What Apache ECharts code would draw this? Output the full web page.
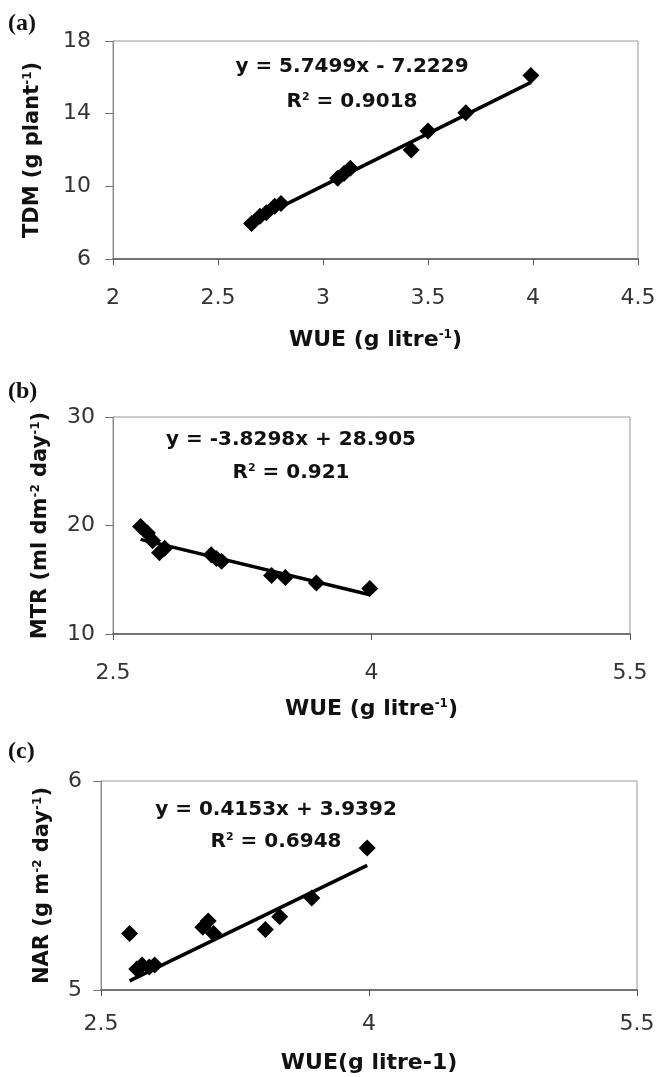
<!DOCTYPE html>
<html>
<head>
<meta charset="utf-8">
<script src="https://cdn.jsdelivr.net/npm/echarts@6/dist/echarts.min.js"></script>
<style>
html,body{margin:0;padding:0;background:#fff;}
#chart{width:659px;height:1077px;}
</style>
</head>
<body>
<div id="chart"></div>
<script>
// ---- data ----
var wue = [2.66, 2.70, 2.73, 2.77, 2.80, 3.07, 3.10, 3.13, 3.42, 3.50, 3.68, 3.99];
var tdm = [7.95, 8.35, 8.55, 8.90, 9.05, 10.45, 10.70, 11.00, 12.00, 13.05, 14.05, 16.10];
var mtr = [19.9, 19.3, 18.6, 17.5, 17.9, 17.3, 16.95, 16.7, 15.4, 15.2, 14.7, 14.2];
var nar = [5.27, 5.10, 5.12, 5.11, 5.12, 5.30, 5.33, 5.27, 5.29, 5.35, 5.44, 5.68];

var trendA = [[2.66, 8.07], [3.99, 15.72]];
var trendB = [[2.66, 18.72], [3.99, 13.62]];
var trendC = [[2.66, 5.044], [3.99, 5.596]];

var xTicksA = [2, 2.5, 3, 3.5, 4, 4.5];
var yTicksA = [6, 10, 14, 18];
var xTicksB = [2.5, 4, 5.5];
var yTicksB = [10, 20, 30];
var xTicksC = [2.5, 4, 5.5];
var yTicksC = [5, 6];

var eqA = ['y = 5.7499x - 7.2229', 'R{sup|2} = 0.9018'];
var eqB = ['y = -3.8298x + 28.905', 'R{sup|2} = 0.921'];
var eqC = ['y = 0.4153x + 3.9392', 'R{sup|2} = 0.6948'];

var titlesA = ['WUE (g litre{sup|-1})', 'TDM (g plant{sup|-1})'];
var titlesB = ['WUE (g litre{sup|-1})', 'MTR (ml dm{sup|-2} day{sup|-1})'];
var titlesC = ['WUE(g litre-1)', 'NAR (g m{sup|-2} day{sup|-1})'];
var panelLabels = ['(a)', '(b)', '(c)'];

function pairs(xs, ys){ return xs.map(function(x,i){ return [x, ys[i]]; }); }

var tickFont = 'DejaVu Sans';
var boldFont = 'DejaVu Sans';
var supRich = { sup: { fontSize: 12, fontWeight: 'bold', fontFamily: boldFont, verticalAlign: 'top', lineHeight: 12, color: '#111' } };

function xAxis(idx, min, max, ticks, name, gap, margin){
  return {
    type: 'value', gridIndex: idx, min: min, max: max,
    name: name, nameLocation: 'middle', nameGap: gap,
    nameTextStyle: { fontFamily: boldFont, fontWeight: 'bold', fontSize: 22, color: '#111', rich: supRich },
    axisLine: { show: true, onZero: false, lineStyle: { color: '#555', width: 1.5 } },
    axisTick: { show: true, inside: false, length: 6, customValues: ticks, lineStyle: { color: '#555' } },
    axisLabel: { customValues: ticks, margin: margin, fontFamily: tickFont, fontSize: 22, color: '#333' },
    splitLine: { show: false }
  };
}
function yAxis(idx, min, max, ticks, name, gap, margin){
  return {
    type: 'value', gridIndex: idx, min: min, max: max,
    name: name, nameLocation: 'middle', nameGap: gap,
    nameTextStyle: { fontFamily: boldFont, fontWeight: 'bold', fontSize: 21, color: '#111', rich: supRich },
    axisLine: { show: true, onZero: false, lineStyle: { color: '#888', width: 1 } },
    axisTick: { show: true, inside: false, length: 8, customValues: ticks, lineStyle: { color: '#777' } },
    axisLabel: { customValues: ticks, margin: margin, fontFamily: tickFont, fontSize: 22, color: '#333' },
    splitLine: { show: false }
  };
}
function scatter(idx, data){
  return { type: 'scatter', xAxisIndex: idx, yAxisIndex: idx, data: data,
    symbol: 'diamond', symbolSize: 17, itemStyle: { color: '#000', opacity: 1 }, z: 3, silent: true };
}
function trend(idx, data){
  return { type: 'line', xAxisIndex: idx, yAxisIndex: idx, data: data,
    showSymbol: false, symbol: 'none', lineStyle: { color: '#000', width: 3.5 }, z: 2, silent: true };
}
function eqText(lines, cx, y1, y2){
  var st = { fontFamily: boldFont, fontWeight: 'bold', fontSize: 20, fill: '#111', align: 'center', verticalAlign: 'middle',
    rich: { sup: { fontSize: 11, fontWeight: 'bold', fontFamily: boldFont, verticalAlign: 'top', lineHeight: 11, fill: '#111' } } };
  return [
    { type: 'text', x: cx, y: y1, style: Object.assign({ text: lines[0] }, st) },
    { type: 'text', x: cx, y: y2, style: Object.assign({ text: lines[1] }, st) }
  ];
}
function panelLabel(txt, y){
  return { type: 'text', x: 8, y: y, style: { text: txt, fontFamily: 'Liberation Serif', fontWeight: 'bold', fontSize: 24, fill: '#111', verticalAlign: 'middle' } };
}

var chart = echarts.init(document.getElementById('chart'), null, { renderer: 'canvas' });
var option = {
  animation: false,
  backgroundColor: '#fff',
  grid: [
    { left: 113, top: 41, width: 525, height: 218, show: true, borderColor: '#999', borderWidth: 1, containLabel: false },
    { left: 113, top: 417, width: 517, height: 217, show: true, borderColor: '#999', borderWidth: 1, containLabel: false },
    { left: 101, top: 781, width: 536, height: 209, show: true, borderColor: '#999', borderWidth: 1, containLabel: false }
  ],
  xAxis: [
    xAxis(0, 2, 4.5, xTicksA, titlesA[0], 70, 28),
    xAxis(1, 2.5, 5.5, xTicksB, titlesB[0], 64, 28),
    xAxis(2, 2.5, 5.5, xTicksC, titlesC[0], 62, 23)
  ],
  yAxis: [
    yAxis(0, 6, 18, yTicksA, titlesA[1], 70, 22),
    yAxis(1, 10, 30, yTicksB, titlesB[1], 62, 18),
    yAxis(2, 5, 6, yTicksC, titlesC[1], 48, 19)
  ],
  series: [
    trend(0, trendA), scatter(0, pairs(wue, tdm)),
    trend(1, trendB), scatter(1, pairs(wue, mtr)),
    trend(2, trendC), scatter(2, pairs(wue, nar))
  ],
  graphic: [].concat(
    eqText(eqA, 352, 67, 102),
    eqText(eqB, 291, 440, 473),
    eqText(eqC, 276, 810, 842),
    [panelLabel(panelLabels[0], 24), panelLabel(panelLabels[1], 392), panelLabel(panelLabels[2], 752)]
  )
};
chart.setOption(option);
</script>
</body>
</html>
